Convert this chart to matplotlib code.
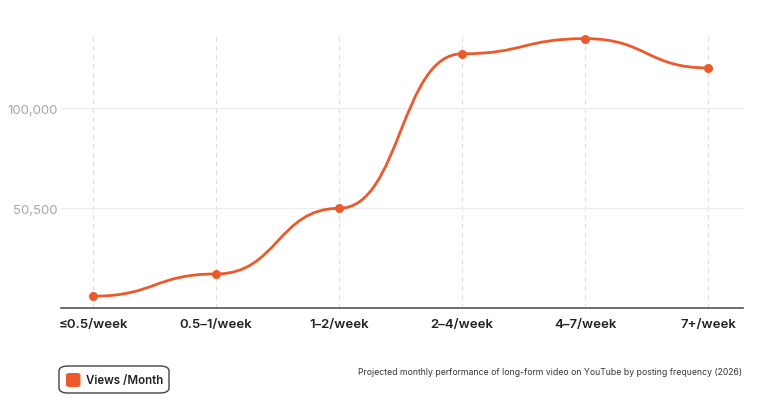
import matplotlib
matplotlib.use("Agg")
import matplotlib.pyplot as plt
from matplotlib.path import Path
from matplotlib.patches import PathPatch, FancyBboxPatch
import numpy as np

categories = ["≤0.5/week", "0.5–1/week", "1–2/week", "2–4/week", "4–7/week", "7+/week"]
views = [7000, 18000, 50500, 127000, 134500, 120000]
ytick_values = [50500, 100000]
ytick_labels = ["50,500", "100,000"]
series_name = "Views /Month"
caption = "Projected monthly performance of long-form video on YouTube by posting frequency (2026)"

ORANGE = "#EC5A2C"
plt.rcParams['font.family'] = ['Inter', 'DejaVu Sans']

W, H = 769, 414
fig = plt.figure(figsize=(W / 100, H / 100), dpi=100)
ax_l, ax_r, ax_b, ax_t = 60.7, 743, 309.3, 35
ax = fig.add_axes([ax_l / W, 1 - ax_b / H, (ax_r - ax_l) / W, (ax_b - ax_t) / H])

x = np.arange(len(categories))
# bumpX curve: cubic bezier segments with horizontal tangents at each point
verts = [(x[0], views[0])]
codes = [Path.MOVETO]
for i in range(len(x) - 1):
    xm = (x[i] + x[i + 1]) / 2
    verts += [(xm, views[i]), (xm, views[i + 1]), (x[i + 1], views[i + 1])]
    codes += [Path.CURVE4] * 3
ax.add_patch(PathPatch(Path(verts, codes), facecolor="none", edgecolor=ORANGE,
                       lw=2.0, capstyle="round", zorder=3))
ax.scatter(x, views, s=42, color=ORANGE, zorder=4, linewidths=0)

ax.set_xlim(-0.264, 5.284)
ax.set_ylim(1000, 136800)

for xi in x:
    ax.axvline(xi, color="#dcdcdc", lw=0.8, ls=(0, (4, 4)), zorder=1)
for yv in ytick_values:
    ax.axhline(yv, color="#ececec", lw=0.9, zorder=1)

ax.set_xticks(x)
ax.set_xticklabels(categories, fontsize=9.5, fontweight="semibold", color="#222222")
ax.set_yticks(ytick_values)
ax.set_yticklabels(ytick_labels, fontsize=9.5, color="#a6a6a6", fontweight="normal")
ax.tick_params(axis="both", length=0)
ax.tick_params(axis="x", pad=7)
ax.tick_params(axis="y", pad=2)

for s in ["top", "right", "left"]:
    ax.spines[s].set_visible(False)
ax.spines["bottom"].set_color("#555555")
ax.spines["bottom"].set_linewidth(1.2)

# legend box (figure pixel coords)
def fx(px):
    return px / W

def fy(py):
    return 1 - py / H

box = FancyBboxPatch((fx(59), fy(394)), fx(169) - fx(59), fy(367) - fy(394),
                     boxstyle="round,pad=0,rounding_size=0.012", transform=fig.transFigure,
                     facecolor="white", edgecolor="#444444", lw=1.0)
fig.patches.append(box)
sq = FancyBboxPatch((fx(66), fy(388)), fx(80.5) - fx(66), fy(374) - fy(388),
                    boxstyle="round,pad=0,rounding_size=0.005", transform=fig.transFigure,
                    facecolor=ORANGE, edgecolor="none")
fig.patches.append(sq)
fig.text(fx(86), fy(381), series_name, fontsize=8.3, fontweight="semibold",
         color="#222222", va="center", ha="left")

fig.text(fx(742), fy(373), caption, fontsize=6.25, color="#333333", va="center", ha="right")

fig.savefig("out.png", dpi=100, facecolor="white")
